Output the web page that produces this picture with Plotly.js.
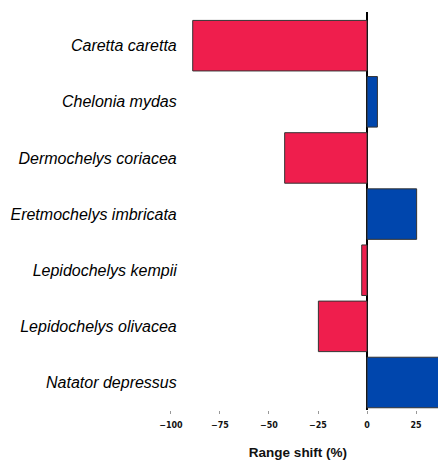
<!DOCTYPE html>
<html><head><meta charset="utf-8">
<script src="https://cdn.plot.ly/plotly-3.0.1.min.js"></script>
<style>html,body{margin:0;padding:0;background:#fff}#chart{width:438px;height:460px}</style>
</head><body><div id="chart"></div>
<script>
const species = ["Caretta caretta","Chelonia mydas","Dermochelys coriacea","Eretmochelys imbricata","Lepidochelys kempii","Lepidochelys olivacea","Natator depressus"];
const rangeShift = [-88.9, 5.3, -42.0, 25.3, -2.7, -24.8, 40.0];
const tickVals = [-100, -75, -50, -25, 0, 25];
const tickText = ["\u2212100","\u221275","\u221250","\u221225","0","25"];
const colors = rangeShift.map(v => v < 0 ? "#EF1E4D" : "#0046AD");

Plotly.newPlot("chart", [{
  type: "bar", orientation: "h",
  y: species, x: rangeShift,
  width: 0.9,
  marker: {color: colors, line: {color: "#333333", width: 1}},
  hoverinfo: "skip"
}], {
  width: 438, height: 460,
  margin: {l: 158, r: 0, t: 12, b: 50},
  paper_bgcolor: "#fff", plot_bgcolor: "#fff",
  showlegend: false,
  bargap: 0.1,
  xaxis: {
    range: [-106.6, 36.2], fixedrange: true,
    tickvals: tickVals, ticktext: tickText,
    ticks: "outside", ticklen: 3, tickcolor: "#999", tickwidth: 1,
    ticklabelstandoff: 4,
    tickfont: {family: "DejaVu Sans", size: 8, color: "#111", weight: "bold"},
    showgrid: false, showline: false,
    zeroline: true, zerolinecolor: "#000", zerolinewidth: 1.5,
    title: {text: "<b>Range shift (%)</b>", font: {family: "Liberation Sans, Arial", size: 13.5, color: "#111"}, standoff: 20},
    automargin: false
  },
  yaxis: {
    type: "category", categoryorder: "array", categoryarray: species,
    range: [6.49, -0.6],
    anchor: "free", position: 0.067,
    showgrid: false, showline: false, zeroline: false, ticks: "",
    tickfont: {family: "Liberation Sans, Arial", size: 16, color: "#000", style: "italic"},
    automargin: false
  }
}, {staticPlot: true});
</script></body></html>
